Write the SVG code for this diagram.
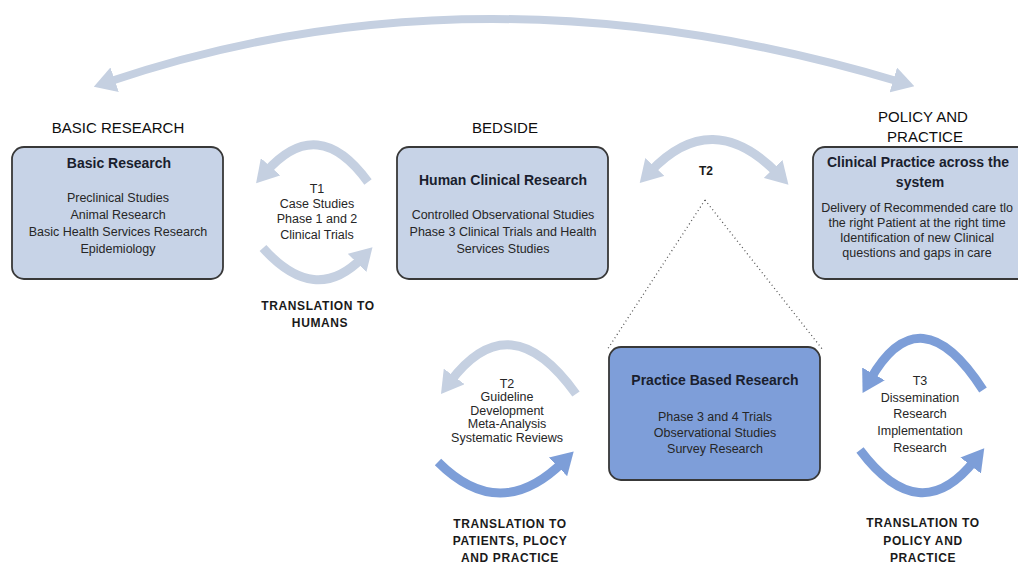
<svg xmlns="http://www.w3.org/2000/svg" width="1018" height="564" viewBox="0 0 1018 564">
<style>
  .box { fill: #c7d3e7; stroke: #383838; stroke-width: 1.8; }
  .box2 { fill: #7e9ed9; stroke: #383838; stroke-width: 1.8; }
  .head { font-family: "Liberation Sans", Arial, sans-serif; font-size: 15px; fill: #0d0d0d; text-anchor: middle; }
  .title { font-family: "Liberation Sans", Arial, sans-serif; font-size: 14px; font-weight: bold; fill: #1a1e2e; text-anchor: middle; }
  .body { font-family: "Liberation Sans", Arial, sans-serif; font-size: 12.5px; fill: #262626; text-anchor: middle; }
  .lbl { font-family: "Liberation Sans", Arial, sans-serif; font-size: 12px; font-weight: bold; fill: #1a1a1a; text-anchor: middle; letter-spacing: 0.6px; }
  .light { fill: none; stroke: #c5d0e1; stroke-width: 9; }
  .dark { fill: none; stroke: #7d9ed8; stroke-width: 9; }
  .dots { fill: none; stroke: #555; stroke-width: 1.3; stroke-dasharray: 1 3; }
</style>
<defs>
  <marker id="hl" markerUnits="userSpaceOnUse" viewBox="0 0 22 26" markerWidth="22" markerHeight="26" refX="7" refY="13" orient="auto-start-reverse">
    <path d="M0,0 L22,13 L0,26 z" fill="#c5d0e1"/>
  </marker>
  <marker id="hd" markerUnits="userSpaceOnUse" viewBox="0 0 22 26" markerWidth="22" markerHeight="26" refX="7" refY="13" orient="auto-start-reverse">
    <path d="M0,0 L22,13 L0,26 z" fill="#7d9ed8"/>
  </marker>
</defs>
<rect width="1018" height="564" fill="#ffffff"/>

<g id="connectors">
  <path class="light" d="M108,82 Q480,-44 900,82" marker-start="url(#hl)" marker-end="url(#hl)" style="stroke-width:8"/>
  <path class="light" d="M368,182 Q318,113 266,172" marker-end="url(#hl)"/>
  <path class="light" d="M263,248 Q315,306 362,258" marker-end="url(#hl)"/>
  <path class="light" d="M650,172 Q712,106 778,174" marker-start="url(#hl)" marker-end="url(#hl)"/>
  <path class="light" d="M576,394 Q510,302 450,382" marker-end="url(#hl)"/>
  <path class="dark" d="M438,462 Q500,524 563,462" marker-end="url(#hd)"/>
  <path class="dark" d="M983,390 Q920,292 870,380" marker-end="url(#hd)"/>
  <path class="dark" d="M860,450 Q920,530 975,460" marker-end="url(#hd)"/>
  <path class="dots" d="M705,200 L607,350"/>
  <path class="dots" d="M705,200 L823,350"/>
</g>

<g id="headings">
  <text class="head" x="118" y="133">BASIC RESEARCH</text>
  <text class="head" x="505" y="133">BEDSIDE</text>
  <text class="head" x="923" y="122">POLICY AND</text>
  <text class="head" x="925" y="142">PRACTICE</text>
</g>

<g id="node-basic">
  <rect class="box" x="12" y="147" width="211" height="132" rx="12"/>
  <text class="title" x="119" y="168">Basic Research</text>
  <text class="body" x="118" y="201.5">Preclinical Studies</text>
  <text class="body" x="118" y="218.5">Animal Research</text>
  <text class="body" x="118" y="235.5">Basic Health Services Research</text>
  <text class="body" x="118" y="252.5">Epidemiology</text>
</g>

<g id="node-human">
  <rect class="box" x="397" y="147" width="211" height="132" rx="12"/>
  <text class="title" x="503" y="185">Human Clinical Research</text>
  <text class="body" x="503" y="218.5">Controlled Observational Studies</text>
  <text class="body" x="503" y="235.5">Phase 3 Clinical Trials and Health</text>
  <text class="body" x="503" y="252.5">Services Studies</text>
</g>

<g id="node-clinical">
  <rect class="box" x="813" y="147" width="222" height="132" rx="12"/>
  <text class="title" x="918" y="167">Clinical Practice across the</text>
  <text class="title" x="920" y="187">system</text>
  <text class="body" x="917" y="211.5">Delivery of Recommended care tlo</text>
  <text class="body" x="917" y="226.5">the right Patient at the right time</text>
  <text class="body" x="917" y="241.5">Identification of new Clinical</text>
  <text class="body" x="917" y="256.5">questions and gaps in care</text>
</g>

<g id="node-practice">
  <rect class="box2" x="609" y="347" width="211" height="133" rx="12"/>
  <text class="title" x="715" y="385">Practice Based Research</text>
  <text class="body" x="715" y="420.5">Phase 3 and 4 Trials</text>
  <text class="body" x="715" y="436.5">Observational Studies</text>
  <text class="body" x="715" y="452.5">Survey Research</text>
</g>

<g id="label-t1">
  <text class="body" x="317" y="192.5">T1</text>
  <text class="body" x="317" y="207.5">Case Studies</text>
  <text class="body" x="317" y="223">Phase 1 and 2</text>
  <text class="body" x="317" y="239">Clinical Trials</text>
  <text class="lbl" x="318" y="309.5">TRANSLATION TO</text>
  <text class="lbl" x="320" y="326.5">HUMANS</text>
</g>

<g id="label-t2-top">
  <text class="lbl" x="706" y="175" style="letter-spacing:0">T2</text>
</g>

<g id="label-t2">
  <text class="body" x="507" y="387.5">T2</text>
  <text class="body" x="507" y="400.5">Guideline</text>
  <text class="body" x="507" y="414.5">Development</text>
  <text class="body" x="507" y="427.5">Meta-Analysis</text>
  <text class="body" x="507" y="441.5">Systematic Reviews</text>
  <text class="lbl" x="510" y="527.5">TRANSLATION TO</text>
  <text class="lbl" x="510" y="544.5">PATIENTS, PLOCY</text>
  <text class="lbl" x="510" y="561.5">AND PRACTICE</text>
</g>

<g id="label-t3">
  <text class="body" x="920" y="384.5">T3</text>
  <text class="body" x="920" y="401.5">Dissemination</text>
  <text class="body" x="920" y="417.5">Research</text>
  <text class="body" x="920" y="434.5">Implementation</text>
  <text class="body" x="920" y="451.5">Research</text>
  <text class="lbl" x="923" y="526.5">TRANSLATION TO</text>
  <text class="lbl" x="923" y="544.5">POLICY AND</text>
  <text class="lbl" x="923" y="561.5">PRACTICE</text>
</g>
</svg>
